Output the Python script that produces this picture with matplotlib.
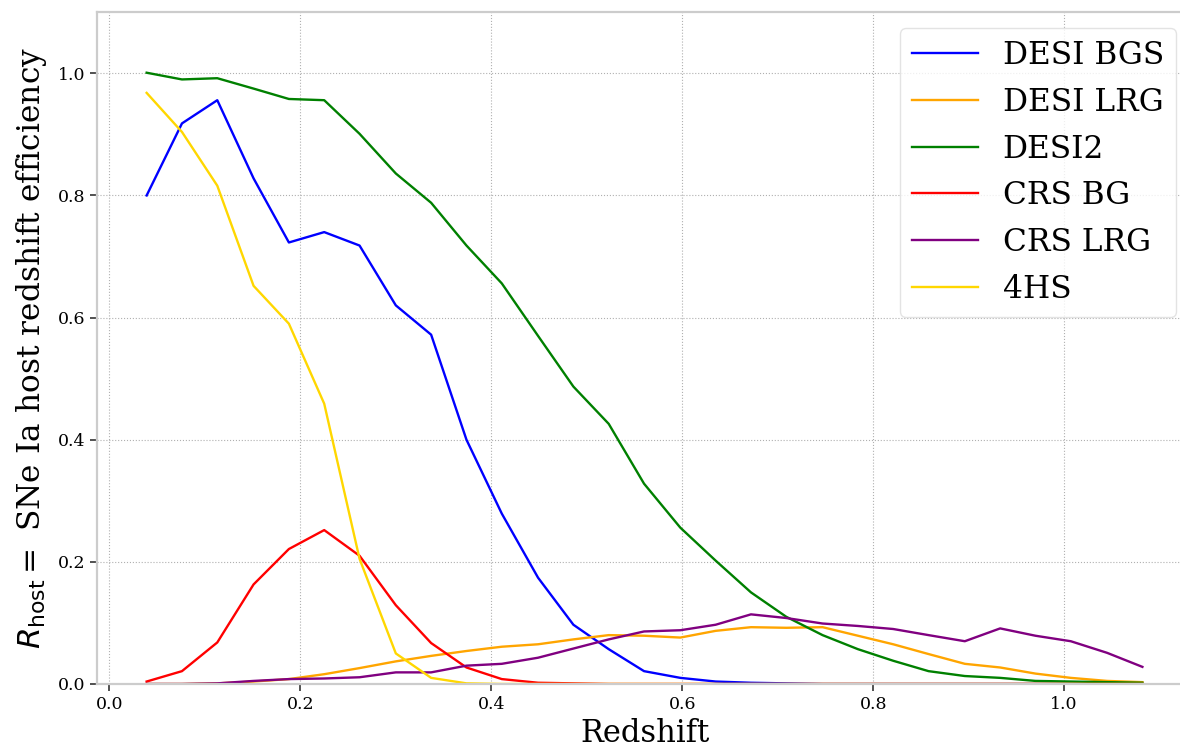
import matplotlib
matplotlib.use("Agg")
import matplotlib.pyplot as plt

redshift = [0.039, 0.076, 0.113, 0.151, 0.188, 0.225, 0.262, 0.300, 0.337, 0.374,
            0.411, 0.449, 0.486, 0.523, 0.560, 0.598, 0.635, 0.672, 0.709, 0.747,
            0.784, 0.821, 0.858, 0.896, 0.933, 0.970, 1.007, 1.045, 1.082]

desi_bgs = [0.800, 0.918, 0.956, 0.828, 0.723, 0.740, 0.718, 0.620, 0.572, 0.400,
            0.279, 0.174, 0.097, 0.057, 0.021, 0.010, 0.004, 0.002, 0.001, 0.000,
            0.000, 0.000, 0.000, 0.000, 0.000, 0.000, 0.000, 0.000, 0.000]
desi_lrg = [0.000, 0.000, 0.001, 0.004, 0.008, 0.016, 0.026, 0.037, 0.046, 0.054,
            0.061, 0.065, 0.073, 0.080, 0.079, 0.076, 0.087, 0.093, 0.092, 0.093,
            0.079, 0.065, 0.049, 0.033, 0.027, 0.017, 0.010, 0.005, 0.003]
desi2 = [1.001, 0.990, 0.992, 0.975, 0.958, 0.956, 0.901, 0.836, 0.788, 0.718,
         0.656, 0.570, 0.487, 0.426, 0.328, 0.256, 0.202, 0.150, 0.110, 0.080,
         0.057, 0.038, 0.021, 0.013, 0.010, 0.005, 0.004, 0.003, 0.002]
crs_bg = [0.004, 0.021, 0.068, 0.163, 0.221, 0.252, 0.210, 0.129, 0.067, 0.027,
          0.008, 0.002, 0.001, 0.000, 0.000, 0.000, 0.000, 0.000, 0.000, 0.000,
          0.000, 0.000, 0.000, 0.000, 0.000, 0.000, 0.000, 0.000, 0.000]
crs_lrg = [0.000, 0.000, 0.001, 0.005, 0.008, 0.009, 0.011, 0.019, 0.019, 0.030,
           0.033, 0.043, 0.058, 0.073, 0.086, 0.088, 0.097, 0.114, 0.108, 0.099,
           0.095, 0.090, 0.080, 0.070, 0.091, 0.079, 0.070, 0.051, 0.028]
fourhs = [0.968, 0.904, 0.816, 0.652, 0.590, 0.459, 0.205, 0.050, 0.010, 0.001,
          0.000, 0.000, 0.000, 0.000, 0.000, 0.000, 0.000, 0.000, 0.000, 0.000,
          0.000, 0.000, 0.000, 0.000, 0.000, 0.000, 0.000, 0.000, 0.000]

series = [("DESI BGS", desi_bgs, "blue"),
          ("DESI LRG", desi_lrg, "orange"),
          ("DESI2", desi2, "green"),
          ("CRS BG", crs_bg, "red"),
          ("CRS LRG", crs_lrg, "purple"),
          ("4HS", fourhs, "gold")]

xticks = [0.0, 0.2, 0.4, 0.6, 0.8, 1.0]
yticks = [0.0, 0.2, 0.4, 0.6, 0.8, 1.0]

plt.rcParams['font.family'] = ['DejaVu Serif']
plt.rcParams['mathtext.fontset'] = 'dejavusans'

fig = plt.figure(figsize=(11.8, 7.48), dpi=100)
ax = fig.add_axes([0.0822, 0.0856, 0.928, 0.898])

for name, vals, col in series:
    ax.plot(redshift, vals, color=col, lw=1.7, label=name)

ax.set_xlim(-0.013, 1.134)
ax.set_ylim(0, 1.1)
ax.set_xticks(xticks)
ax.set_yticks(yticks)
ax.set_xticklabels([f"{t:.1f}" for t in xticks])
ax.set_yticklabels([f"{t:.1f}" for t in yticks])
ax.tick_params(labelsize=12.5, length=5, width=1.2, color='#333333')
ax.grid(True, linestyle=':', color='#b0b0b0', lw=0.8)
for s in ax.spines.values():
    s.set_color('#cccccc')
    s.set_linewidth(1.6)

ax.set_xlabel("Redshift", fontsize=22, labelpad=4)
ax.set_ylabel(r"$R_{\rm host} =$ SNe Ia host redshift efficiency", fontsize=22.5, labelpad=6)

leg = ax.legend(loc='upper right', fontsize=22.5, frameon=True, fancybox=True,
                handlelength=2.1, borderpad=0.4, labelspacing=0.5, handletextpad=0.8)
leg.get_frame().set_edgecolor('#dddddd')

fig.savefig("out.png", dpi=100)
